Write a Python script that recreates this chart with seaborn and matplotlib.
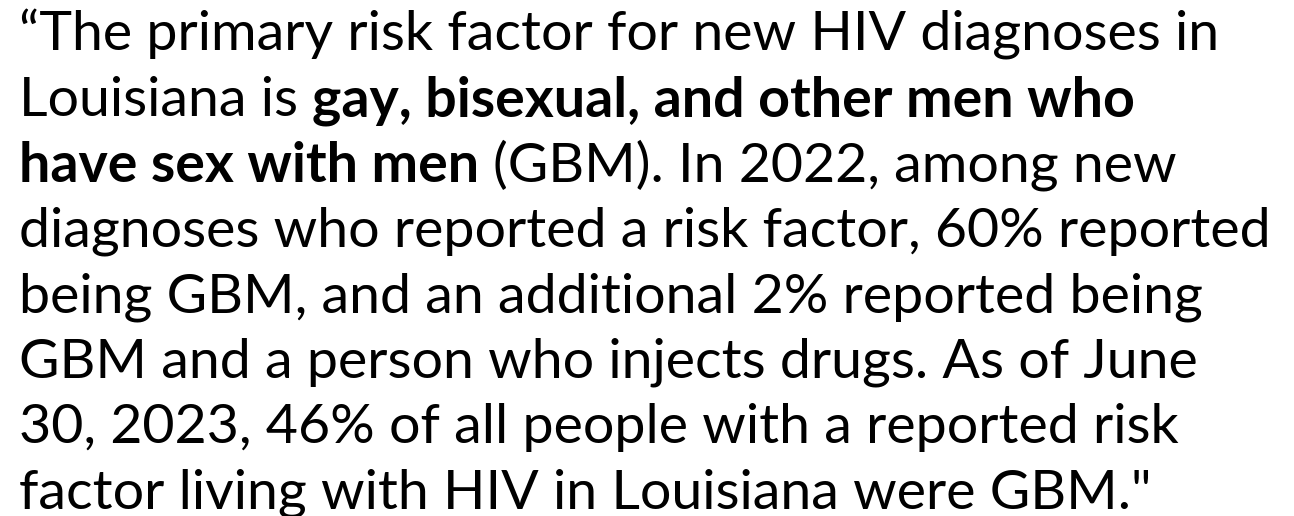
import matplotlib
matplotlib.use("Agg")
import matplotlib.pyplot as plt
import seaborn as sns
from matplotlib.transforms import IdentityTransform

sns.set_theme(style="white")
plt.rcParams['font.family'] = ['Lato', 'DejaVu Sans']

# text of the quote, line by line: (segment, is_bold)
line1 = [("\u201cThe primary risk factor for new HIV diagnoses in", False)]
line2 = [("Louisiana is", False), ("gay, bisexual, and other men who", True)]
line3 = [("have sex with men", True), ("(GBM). In 2022, among new", False)]
line4 = [("diagnoses who reported a risk factor, 60% reported", False)]
line5 = [("being GBM, and an additional 2% reported being", False)]
line6 = [("GBM and a person who injects drugs. As of June", False)]
line7 = [("30, 2023, 46% of all people with a reported risk", False)]
line8 = [("factor living with HIV in Louisiana were GBM.\"", False)]
lines = [line1, line2, line3, line4, line5, line6, line7, line8]

# approximate widths of each line in the reference (px), used to pick a font size
target_widths = [1196, 1130, 1167, 1244, 1189, 1169, 1151, 1119]

W, H, DPI = 1294, 516, 100
fig = plt.figure(figsize=(W / DPI, H / DPI), dpi=DPI)
fig.patch.set_facecolor("white")
renderer = fig.canvas.get_renderer()


def text_width(s, size, bold):
    t = fig.text(0, 0, s, fontsize=size, fontweight="bold" if bold else "normal",
                 transform=IdentityTransform())
    w = t.get_window_extent(renderer).width
    t.remove()
    return w


def space_width(size, bold):
    return text_width("a a", size, bold) - text_width("aa", size, bold)


def line_width(segs, size):
    total = 0
    for k, (s, b) in enumerate(segs):
        if k > 0:
            total += space_width(size, segs[k - 1][1])
        total += text_width(s, size, b)
    return total


# least squares fit of one font size to the line widths
ref = 40
ws = [line_width(segs, ref) for segs in lines]
scale = sum(w * t for w, t in zip(ws, target_widths)) / sum(w * w for w in ws)
fs = ref * scale

x0 = 19
y_first = 51      # baseline of first line, from top
step = 65.3       # line pitch
for i, segs in enumerate(lines):
    x = x0
    y = H - (y_first + i * step)
    for k, (s, b) in enumerate(segs):
        if k > 0:
            x += space_width(fs, segs[k - 1][1])
        t = fig.text(x, y, s, fontsize=fs, fontweight="bold" if b else "normal",
                     color="black", va="baseline", ha="left",
                     transform=IdentityTransform())
        x += t.get_window_extent(renderer).width

fig.savefig("out.png", dpi=DPI, facecolor="white")
